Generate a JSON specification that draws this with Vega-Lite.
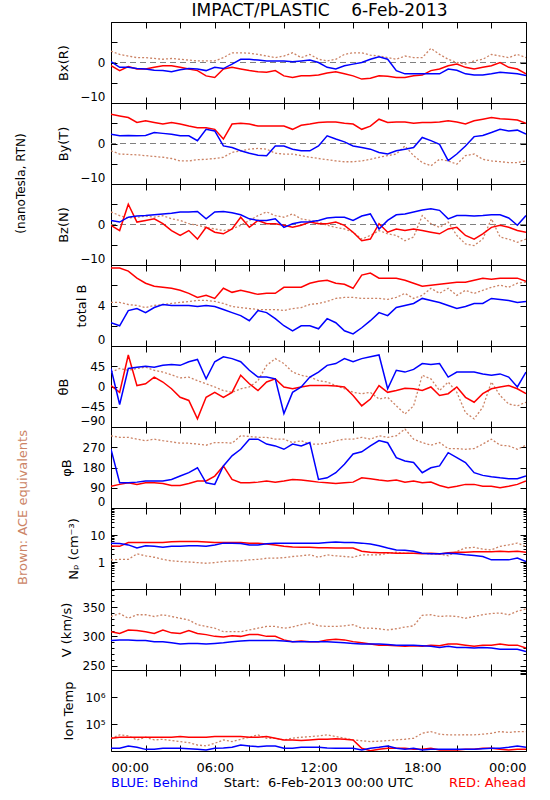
{
"$schema": "https://vega.github.io/schema/vega-lite/v6.json",
"background": "white",
"padding": {"left": 14, "top": 1, "right": 20, "bottom": 4},
"title": {"text": "IMPACT/PLASTIC\u00a0\u00a0\u00a0\u00a06-Feb-2013", "fontSize": 17, "fontWeight": "normal", "color": "black", "anchor": "middle", "offset": 1, "dx": 49},
"config": {
  "font": "DejaVu Sans",
  "view": {"stroke": "black", "strokeWidth": 1},
  "axis": {"domain": false, "grid": false, "ticks": true, "tickColor": "black", "tickSize": -6, "tickWidth": 1, "labelColor": "black", "labelFontSize": 12, "titleFontSize": 13, "titleFontWeight": "normal", "titleColor": "black", "minExtent": 0, "labelPadding": 12, "titlePadding": 9, "labelOverlap": false, "labelBound": false},
  "concat": {"spacing": 0}
},
"data": {"values": [
{"t":0,"bx_b":0.2,"bx_r":-0.8,"bx_a":2.8,"by_b":2.3,"by_r":7.2,"by_a":-1.8,"bz_b":1.0,"bz_r":-0.2,"bz_a":3.1,"bt_b":2.3,"bt_r":7.7,"bt_a":4.3,"th_b":40,"th_r":2,"th_a":32,"ph_b":261,"ph_r":97,"ph_a":321,"np_b":5.0,"np_r":3.9,"np_a":1.2,"v_b":293,"v_r":308,"v_a":334,"ti_b":12600,"ti_r":29600,"ti_a":29600},
{"t":0.5,"bx_b":-1.2,"bx_r":-2.0,"bx_a":2.0,"by_b":1.9,"by_r":6.8,"by_a":-2.6,"bz_b":0.6,"bz_r":-1.5,"bz_a":2.2,"bt_b":2.0,"bt_r":7.7,"bt_a":4.3,"th_b":-40,"th_r":-13,"th_a":40,"ph_b":112,"ph_r":105,"ph_a":314,"np_b":4.8,"np_r":3.8,"np_a":1.25,"v_b":294,"v_r":305,"v_a":339,"ti_b":12600,"ti_r":32300,"ti_a":39500},
{"t":1,"bx_b":-1.2,"bx_r":-1.0,"bx_a":1.6,"by_b":2.0,"by_r":6.4,"by_a":-2.7,"bz_b":1.8,"bz_r":5.0,"bz_a":1.6,"bt_b":3.5,"bt_r":7.4,"bt_a":4.1,"th_b":40,"th_r":70,"th_a":36,"ph_b":112,"ph_r":112,"ph_a":314,"np_b":4.3,"np_r":5.3,"np_a":1.25,"v_b":294,"v_r":311,"v_a":331,"ti_b":15400,"ti_r":32300,"ti_a":36200},
{"t":1.5,"bx_b":-1.5,"bx_r":-1.6,"bx_a":1.2,"by_b":1.9,"by_r":5.2,"by_a":-2.8,"bz_b":2.1,"bz_r":0.6,"bz_a":1.8,"bt_b":3.7,"bt_r":6.7,"bt_a":4.0,"th_b":43,"th_r":2,"th_a":40,"ph_b":115,"ph_r":105,"ph_a":306,"np_b":3.3,"np_r":5.3,"np_a":2.0,"v_b":293,"v_r":310,"v_a":337,"ti_b":13700,"ti_r":32300,"ti_a":25700},
{"t":2,"bx_b":-1.6,"bx_r":-1.6,"bx_a":1.2,"by_b":2.0,"by_r":5.6,"by_a":-3.0,"bz_b":2.2,"bz_r":1.0,"bz_a":2.1,"bt_b":3.3,"bt_r":6.2,"bt_a":3.8,"th_b":45,"th_r":6,"th_a":43,"ph_b":120,"ph_r":112,"ph_a":299,"np_b":4.0,"np_r":5.3,"np_a":1.7,"v_b":293,"v_r":308,"v_a":337,"ti_b":11500,"ti_r":32300,"ti_a":32300},
{"t":2.5,"bx_b":-1.9,"bx_r":-1.2,"bx_a":1.0,"by_b":2.7,"by_r":5.2,"by_a":-3.2,"bz_b":2.4,"bz_r":1.4,"bz_a":1.8,"bt_b":3.8,"bt_r":5.9,"bt_a":4.0,"th_b":43,"th_r":21,"th_a":36,"ph_b":120,"ph_r":112,"ph_a":306,"np_b":3.8,"np_r":5.3,"np_a":1.5,"v_b":291,"v_r":305,"v_a":334,"ti_b":11500,"ti_r":32300,"ti_a":25700},
{"t":3,"bx_b":-2.0,"bx_r":-0.8,"bx_a":0.8,"by_b":2.5,"by_r":4.8,"by_a":-3.4,"bz_b":2.6,"bz_r":0.2,"bz_a":2.2,"bt_b":4.1,"bt_r":5.8,"bt_a":4.1,"th_b":47,"th_r":10,"th_a":32,"ph_b":120,"ph_r":109,"ph_a":299,"np_b":3.5,"np_r":5.3,"np_a":1.25,"v_b":291,"v_r":311,"v_a":337,"ti_b":12600,"ti_r":32300,"ti_a":27200},
{"t":3.5,"bx_b":-2.3,"bx_r":-0.8,"bx_a":1.0,"by_b":2.3,"by_r":5.2,"by_a":-3.7,"bz_b":2.8,"bz_r":-1.5,"bz_a":1.4,"bt_b":4.0,"bt_r":5.7,"bt_a":4.2,"th_b":49,"th_r":-5,"th_a":26,"ph_b":127,"ph_r":100,"ph_a":294,"np_b":3.8,"np_r":5.6,"np_a":1.1,"v_b":289,"v_r":306,"v_a":334,"ti_b":12600,"ti_r":32300,"ti_a":24300},
{"t":4,"bx_b":-1.8,"bx_r":-1.2,"bx_a":0.8,"by_b":1.9,"by_r":4.8,"by_a":-4.3,"bz_b":3.1,"bz_r":-2.7,"bz_a":1.0,"bt_b":4.0,"bt_r":5.5,"bt_a":4.3,"th_b":47,"th_r":-24,"th_a":19,"ph_b":142,"ph_r":100,"ph_a":288,"np_b":3.8,"np_r":5.8,"np_a":1.04,"v_b":287,"v_r":305,"v_a":331,"ti_b":12600,"ti_r":34200,"ti_a":22300},
{"t":4.5,"bx_b":-1.5,"bx_r":-1.6,"bx_a":0.6,"by_b":1.9,"by_r":4.3,"by_a":-4.3,"bz_b":3.1,"bz_r":-1.5,"bz_a":0.2,"bt_b":4.0,"bt_r":5.2,"bt_a":4.4,"th_b":55,"th_r":-31,"th_a":21,"ph_b":157,"ph_r":109,"ph_a":288,"np_b":4.0,"np_r":5.8,"np_a":1.0,"v_b":288,"v_r":310,"v_a":328,"ti_b":12000,"ti_r":32300,"ti_a":20500},
{"t":5,"bx_b":-1.6,"bx_r":-2.0,"bx_a":0.4,"by_b":0.7,"by_r":3.9,"by_a":-4.0,"bz_b":3.2,"bz_r":-3.6,"bz_a":-0.2,"bt_b":3.9,"bt_r":4.8,"bt_a":4.5,"th_b":60,"th_r":-72,"th_a":13,"ph_b":179,"ph_r":120,"ph_a":284,"np_b":4.0,"np_r":5.8,"np_a":0.95,"v_b":288,"v_r":305,"v_a":320,"ti_b":11500,"ti_r":32300,"ti_a":16700},
{"t":5.5,"bx_b":-2.0,"bx_r":-3.3,"bx_a":0.4,"by_b":3.5,"by_r":3.9,"by_a":-3.9,"bz_b":1.4,"bz_r":-0.7,"bz_a":-0.7,"bt_b":4.0,"bt_r":5.0,"bt_a":4.5,"th_b":17,"th_r":-24,"th_a":6,"ph_b":112,"ph_r":120,"ph_a":279,"np_b":3.8,"np_r":5.5,"np_a":0.9,"v_b":287,"v_r":303,"v_a":317,"ti_b":10900,"ti_r":32300,"ti_a":15400},
{"t":6,"bx_b":-1.2,"bx_r":-3.7,"bx_a":0.4,"by_b":3.1,"by_r":3.5,"by_a":-3.7,"bz_b":3.1,"bz_r":-1.9,"bz_a":-1.1,"bt_b":3.9,"bt_r":4.7,"bt_a":4.4,"th_b":55,"th_r":-13,"th_a":-1,"ph_b":105,"ph_r":142,"ph_a":291,"np_b":4.3,"np_r":5.3,"np_a":0.95,"v_b":288,"v_r":300,"v_a":314,"ti_b":12600,"ti_r":34200,"ti_a":19300},
{"t":6.5,"bx_b":-1.5,"bx_r":-1.6,"bx_a":1.2,"by_b":-0.6,"by_r":1.1,"by_a":-3.4,"bz_b":3.2,"bz_r":-2.3,"bz_a":-1.5,"bt_b":3.6,"bt_r":5.7,"bt_a":4.2,"th_b":66,"th_r":-24,"th_a":-9,"ph_b":187,"ph_r":187,"ph_a":291,"np_b":5.0,"np_r":5.3,"np_a":1.04,"v_b":289,"v_r":299,"v_a":308,"ti_b":13000,"ti_r":34200,"ti_a":25700},
{"t":7,"bx_b":-0.4,"bx_r":-1.2,"bx_a":2.4,"by_b":-1.0,"by_r":4.8,"by_a":-2.2,"bz_b":2.9,"bz_r":-1.1,"bz_a":-1.1,"bt_b":3.3,"bt_r":5.3,"bt_a":3.9,"th_b":62,"th_r":-13,"th_a":-13,"ph_b":232,"ph_r":127,"ph_a":288,"np_b":5.0,"np_r":5.3,"np_a":1.1,"v_b":291,"v_r":301,"v_a":308,"ti_b":13700,"ti_r":34200,"ti_a":22300},
{"t":7.5,"bx_b":0.8,"bx_r":-1.6,"bx_a":2.4,"by_b":-1.8,"by_r":5.0,"by_a":-1.8,"bz_b":2.4,"bz_r":1.8,"bz_a":-0.2,"bt_b":3.0,"bt_r":5.5,"bt_a":3.8,"th_b":55,"th_r":25,"th_a":-5,"ph_b":261,"ph_r":112,"ph_a":321,"np_b":4.8,"np_r":5.3,"np_a":1.1,"v_b":292,"v_r":300,"v_a":308,"ti_b":16700,"ti_r":34200,"ti_a":27200},
{"t":8,"bx_b":0.8,"bx_r":-2.0,"bx_a":2.3,"by_b":-2.4,"by_r":4.8,"by_a":-1.4,"bz_b":1.4,"bz_r":-0.7,"bz_a":1.0,"bt_b":2.5,"bt_r":5.3,"bt_a":3.7,"th_b":36,"th_r":6,"th_a":-1,"ph_b":306,"ph_r":112,"ph_a":318,"np_b":4.3,"np_r":5.0,"np_a":1.2,"v_b":293,"v_r":303,"v_a":311,"ti_b":15400,"ti_r":32300,"ti_a":32300},
{"t":8.5,"bx_b":0.6,"bx_r":-2.3,"bx_a":2.0,"by_b":-2.9,"by_r":4.3,"by_a":-1.2,"bz_b":1.0,"bz_r":1.0,"bz_a":2.2,"bt_b":3.5,"bt_r":5.1,"bt_a":3.6,"th_b":21,"th_r":-9,"th_a":13,"ph_b":306,"ph_r":115,"ph_a":314,"np_b":4.3,"np_r":5.0,"np_a":1.25,"v_b":293,"v_r":303,"v_a":314,"ti_b":14500,"ti_r":32300,"ti_a":39500},
{"t":9,"bx_b":0.4,"bx_r":-2.4,"bx_a":1.6,"by_b":-3.0,"by_r":4.3,"by_a":-1.4,"bz_b":1.0,"bz_r":0.2,"bz_a":3.1,"bt_b":3.3,"bt_r":5.2,"bt_a":3.6,"th_b":21,"th_r":10,"th_a":47,"ph_b":284,"ph_r":120,"ph_a":314,"np_b":4.7,"np_r":4.6,"np_a":1.38,"v_b":293,"v_r":300,"v_a":317,"ti_b":15400,"ti_r":34200,"ti_a":29600},
{"t":9.5,"bx_b":0.4,"bx_r":-2.0,"bx_a":1.2,"by_b":-0.6,"by_r":4.3,"by_a":-2.4,"bz_b":1.4,"bz_r":0.2,"bz_a":2.2,"bt_b":2.7,"bt_r":5.2,"bt_a":3.6,"th_b":17,"th_r":17,"th_a":62,"ph_b":276,"ph_r":115,"ph_a":306,"np_b":5.0,"np_r":4.3,"np_a":1.38,"v_b":293,"v_r":300,"v_a":317,"ti_b":15400,"ti_r":29600,"ti_a":29600},
{"t":10,"bx_b":0.4,"bx_r":-3.3,"bx_a":1.6,"by_b":-0.6,"by_r":4.3,"by_a":-2.6,"bz_b":-0.7,"bz_r":-0.2,"bz_a":1.8,"bt_b":2.0,"bt_r":5.8,"bt_a":3.5,"th_b":-60,"th_r":-1,"th_a":51,"ph_b":261,"ph_r":120,"ph_a":306,"np_b":5.0,"np_r":3.8,"np_a":1.45,"v_b":292,"v_r":294,"v_a":314,"ti_b":12600,"ti_r":25700,"ti_a":25700},
{"t":10.5,"bx_b":0.2,"bx_r":-3.7,"bx_a":2.4,"by_b":-1.4,"by_r":3.5,"by_a":-2.6,"bz_b":0.2,"bz_r":-0.7,"bz_a":2.6,"bt_b":1.5,"bt_r":5.8,"bt_a":3.7,"th_b":-13,"th_r":-5,"th_a":32,"ph_b":284,"ph_r":127,"ph_a":291,"np_b":5.0,"np_r":3.6,"np_a":1.6,"v_b":291,"v_r":291,"v_a":316,"ti_b":12600,"ti_r":25700,"ti_a":30000},
{"t":11,"bx_b":0.4,"bx_r":-3.3,"bx_a":1.2,"by_b":-1.8,"by_r":4.5,"by_a":-3.0,"bz_b":0.6,"bz_r":-0.2,"bz_a":1.4,"bt_b":2.0,"bt_r":5.8,"bt_a":3.8,"th_b":-1,"th_r":-1,"th_a":25,"ph_b":276,"ph_r":124,"ph_a":299,"np_b":5.0,"np_r":3.5,"np_a":1.7,"v_b":291,"v_r":292,"v_a":320,"ti_b":13700,"ti_r":24300,"ti_a":32300},
{"t":11.5,"bx_b":0.6,"bx_r":-3.3,"bx_a":2.0,"by_b":-1.8,"by_r":4.8,"by_a":-3.4,"bz_b":0.7,"bz_r":0.6,"bz_a":1.0,"bt_b":2.0,"bt_r":6.2,"bt_a":4.1,"th_b":21,"th_r":2,"th_a":21,"ph_b":291,"ph_r":120,"ph_a":284,"np_b":5.0,"np_r":3.5,"np_a":1.84,"v_b":291,"v_r":291,"v_a":323,"ti_b":13700,"ti_r":25700,"ti_a":34000},
{"t":12,"bx_b":0.0,"bx_r":-3.1,"bx_a":0.8,"by_b":-0.6,"by_r":5.2,"by_a":-3.7,"bz_b":1.0,"bz_r":0.2,"bz_a":0.6,"bt_b":1.7,"bt_r":6.4,"bt_a":4.2,"th_b":32,"th_r":2,"th_a":13,"ph_b":127,"ph_r":115,"ph_a":284,"np_b":5.0,"np_r":3.4,"np_a":1.5,"v_b":291,"v_r":291,"v_a":318,"ti_b":13700,"ti_r":27200,"ti_a":36200},
{"t":12.5,"bx_b":-1.2,"bx_r":-2.6,"bx_a":0.4,"by_b":1.9,"by_r":5.3,"by_a":-4.0,"bz_b":1.6,"bz_r":0.2,"bz_a":-0.2,"bt_b":2.7,"bt_r":6.5,"bt_a":4.4,"th_b":47,"th_r":2,"th_a":10,"ph_b":134,"ph_r":112,"ph_a":288,"np_b":5.3,"np_r":3.4,"np_a":1.84,"v_b":291,"v_r":294,"v_a":317,"ti_b":13000,"ti_r":27200,"ti_a":39500},
{"t":13,"bx_b":-1.6,"bx_r":-2.3,"bx_a":0.8,"by_b":1.1,"by_r":5.3,"by_a":-4.3,"bz_b":1.8,"bz_r":0.6,"bz_a":-0.7,"bt_b":2.3,"bt_r":6.2,"bt_a":4.7,"th_b":51,"th_r":1,"th_a":2,"ph_b":157,"ph_r":109,"ph_a":299,"np_b":5.5,"np_r":3.3,"np_a":1.7,"v_b":290,"v_r":295,"v_a":317,"ti_b":12600,"ti_r":28500,"ti_a":34200},
{"t":13.5,"bx_b":-0.8,"bx_r":-2.8,"bx_a":2.0,"by_b":0.4,"by_r":5.0,"by_a":-4.5,"bz_b":1.8,"bz_r":-0.2,"bz_a":-1.1,"bt_b":1.5,"bt_r":6.1,"bt_a":4.8,"th_b":62,"th_r":-1,"th_a":-5,"ph_b":194,"ph_r":112,"ph_a":306,"np_b":5.3,"np_r":3.3,"np_a":1.6,"v_b":289,"v_r":294,"v_a":318,"ti_b":12600,"ti_r":27200,"ti_a":30000},
{"t":14,"bx_b":-0.4,"bx_r":-3.3,"bx_a":2.4,"by_b":-0.6,"by_r":4.8,"by_a":-4.5,"bz_b":1.0,"bz_r":-1.9,"bz_a":-1.9,"bt_b":1.2,"bt_r":5.7,"bt_a":4.8,"th_b":55,"th_r":-20,"th_a":-13,"ph_b":240,"ph_r":115,"ph_a":306,"np_b":5.3,"np_r":3.3,"np_a":1.5,"v_b":288,"v_r":291,"v_a":320,"ti_b":12600,"ti_r":25700,"ti_a":25700},
{"t":14.5,"bx_b":0.0,"bx_r":-4.1,"bx_a":2.4,"by_b":-1.0,"by_r":3.5,"by_a":-4.3,"bz_b":2.1,"bz_r":-4.0,"bz_a":-3.6,"bt_b":1.8,"bt_r":7.0,"bt_a":4.7,"th_b":62,"th_r":-43,"th_a":-16,"ph_b":250,"ph_r":134,"ph_a":314,"np_b":5.0,"np_r":2.5,"np_a":1.84,"v_b":287,"v_r":289,"v_a":314,"ti_b":10900,"ti_r":12600,"ti_a":24000},
{"t":15,"bx_b":0.8,"bx_r":-3.9,"bx_a":1.8,"by_b":-1.4,"by_r":4.3,"by_a":-3.9,"bz_b":2.6,"bz_r":-3.6,"bz_a":-2.7,"bt_b":2.5,"bt_r":7.2,"bt_a":4.7,"th_b":66,"th_r":-28,"th_a":-13,"ph_b":276,"ph_r":130,"ph_a":306,"np_b":4.6,"np_r":2.3,"np_a":1.84,"v_b":287,"v_r":287,"v_a":314,"ti_b":12600,"ti_r":10300,"ti_a":22300},
{"t":15.5,"bx_b":1.4,"bx_r":-3.3,"bx_a":1.6,"by_b":-2.2,"by_r":6.0,"by_a":-3.4,"bz_b":-1.1,"bz_r":0.2,"bz_a":-1.5,"bt_b":3.3,"bt_r":6.7,"bt_a":4.7,"th_b":70,"th_r":2,"th_a":-28,"ph_b":300,"ph_r":124,"ph_a":321,"np_b":4.0,"np_r":2.2,"np_a":1.84,"v_b":287,"v_r":285,"v_a":313,"ti_b":13700,"ti_r":11500,"ti_a":23000},
{"t":16,"bx_b":0.8,"bx_r":-3.4,"bx_a":1.2,"by_b":-2.6,"by_r":5.2,"by_a":-3.0,"bz_b":1.0,"bz_r":-1.9,"bz_a":-2.3,"bt_b":3.0,"bt_r":6.7,"bt_a":4.6,"th_b":-5,"th_r":-13,"th_a":-24,"ph_b":290,"ph_r":120,"ph_a":314,"np_b":3.3,"np_r":2.2,"np_a":2.1,"v_b":286,"v_r":285,"v_a":311,"ti_b":15400,"ti_r":12600,"ti_a":24300},
{"t":16.5,"bx_b":-2.0,"bx_r":-3.7,"bx_a":0.8,"by_b":-1.8,"by_r":5.3,"by_a":-2.6,"bz_b":2.4,"bz_r":-1.1,"bz_a":-2.7,"bt_b":3.8,"bt_r":6.7,"bt_a":4.8,"th_b":36,"th_r":-9,"th_a":-43,"ph_b":224,"ph_r":124,"ph_a":321,"np_b":2.8,"np_r":2.1,"np_a":2.3,"v_b":285,"v_r":284,"v_a":313,"ti_b":12600,"ti_r":12600,"ti_a":26000},
{"t":17,"bx_b":-2.8,"bx_r":-3.7,"bx_a":1.6,"by_b":-1.4,"by_r":5.3,"by_a":-0.6,"bz_b":2.6,"bz_r":-1.5,"bz_a":-4.0,"bt_b":4.0,"bt_r":6.5,"bt_a":5.2,"th_b":32,"th_r":-4,"th_a":-61,"ph_b":209,"ph_r":115,"ph_a":351,"np_b":2.7,"np_r":2.1,"np_a":2.1,"v_b":285,"v_r":283,"v_a":316,"ti_b":11500,"ti_r":12600,"ti_a":27200},
{"t":17.5,"bx_b":-2.8,"bx_r":-3.3,"bx_a":1.2,"by_b":-1.0,"by_r":5.0,"by_a":-3.0,"bz_b":3.1,"bz_r":-1.1,"bz_a":-3.1,"bt_b":4.2,"bt_r":6.2,"bt_a":4.7,"th_b":38,"th_r":-5,"th_a":-43,"ph_b":202,"ph_r":120,"ph_a":306,"np_b":2.5,"np_r":2.1,"np_a":2.1,"v_b":285,"v_r":284,"v_a":318,"ti_b":12600,"ti_r":11500,"ti_a":29600},
{"t":18,"bx_b":-2.8,"bx_r":-3.1,"bx_a":1.2,"by_b":1.5,"by_r":5.2,"by_a":-4.7,"bz_b":3.6,"bz_r":-1.5,"bz_a":2.2,"bt_b":4.7,"bt_r":5.9,"bt_a":5.0,"th_b":51,"th_r":-9,"th_a":25,"ph_b":157,"ph_r":112,"ph_a":291,"np_b":2.1,"np_r":2.0,"np_a":2.1,"v_b":284,"v_r":283,"v_a":336,"ti_b":10900,"ti_r":11500,"ti_a":45500},
{"t":18.5,"bx_b":-2.8,"bx_r":-2.0,"bx_a":3.5,"by_b":0.7,"by_r":5.2,"by_a":-5.5,"bz_b":3.9,"bz_r":-1.9,"bz_a":0.2,"bt_b":4.5,"bt_r":6.0,"bt_a":5.7,"th_b":49,"th_r":-1,"th_a":17,"ph_b":179,"ph_r":115,"ph_a":279,"np_b":2.0,"np_r":2.1,"np_a":2.0,"v_b":283,"v_r":285,"v_a":337,"ti_b":11500,"ti_r":12600,"ti_a":52500},
{"t":19,"bx_b":-2.8,"bx_r":-1.6,"bx_a":2.0,"by_b":-0.2,"by_r":5.3,"by_a":-3.9,"bz_b":3.5,"bz_r":-2.3,"bz_a":-0.7,"bt_b":4.3,"bt_r":6.1,"bt_a":5.2,"th_b":51,"th_r":-20,"th_a":-9,"ph_b":187,"ph_r":100,"ph_a":291,"np_b":2.0,"np_r":2.0,"np_a":2.0,"v_b":281,"v_r":284,"v_a":334,"ti_b":11500,"ti_r":10900,"ti_a":42000},
{"t":19.5,"bx_b":-1.6,"bx_r":-0.8,"bx_a":0.8,"by_b":-4.2,"by_r":5.6,"by_a":-4.3,"bz_b":1.4,"bz_r":-1.1,"bz_a":0.6,"bt_b":4.0,"bt_r":6.2,"bt_a":5.7,"th_b":21,"th_r":-16,"th_a":10,"ph_b":246,"ph_r":90,"ph_a":264,"np_b":2.1,"np_r":2.2,"np_a":1.7,"v_b":283,"v_r":287,"v_a":335,"ti_b":11500,"ti_r":10900,"ti_a":39500},
{"t":20,"bx_b":-1.9,"bx_r":-0.4,"bx_a":0.0,"by_b":-2.6,"by_r":5.3,"by_a":-5.1,"bz_b":2.2,"bz_r":-0.7,"bz_a":-2.7,"bt_b":3.7,"bt_r":6.3,"bt_a":5.0,"th_b":32,"th_r":-1,"th_a":-13,"ph_b":224,"ph_r":97,"ph_a":264,"np_b":2.0,"np_r":2.3,"np_a":2.45,"v_b":281,"v_r":287,"v_a":334,"ti_b":11500,"ti_r":10900,"ti_a":39500},
{"t":20.5,"bx_b":-2.8,"bx_r":-1.2,"bx_a":-0.4,"by_b":-0.6,"by_r":4.8,"by_a":-3.0,"bz_b":2.2,"bz_r":-2.7,"bz_a":-4.8,"bt_b":3.9,"bt_r":6.3,"bt_a":5.5,"th_b":32,"th_r":-24,"th_a":-58,"ph_b":202,"ph_r":105,"ph_a":261,"np_b":1.85,"np_r":2.3,"np_a":3.3,"v_b":281,"v_r":285,"v_a":331,"ti_b":11500,"ti_r":11500,"ti_a":40000},
{"t":21,"bx_b":-3.1,"bx_r":-1.6,"bx_a":0.4,"by_b":1.7,"by_r":5.6,"by_a":-2.6,"bz_b":2.1,"bz_r":-3.6,"bz_a":-5.2,"bt_b":4.2,"bt_r":6.5,"bt_a":5.2,"th_b":32,"th_r":-35,"th_a":-72,"ph_b":157,"ph_r":105,"ph_a":264,"np_b":1.75,"np_r":2.4,"np_a":3.5,"v_b":280,"v_r":283,"v_a":334,"ti_b":11500,"ti_r":11500,"ti_a":39500},
{"t":21.5,"bx_b":-3.1,"bx_r":-1.2,"bx_a":0.8,"by_b":2.0,"by_r":6.0,"by_a":-3.9,"bz_b":2.2,"bz_r":-2.3,"bz_a":-3.6,"bt_b":4.2,"bt_r":6.7,"bt_a":5.5,"th_b":28,"th_r":-16,"th_a":-46,"ph_b":145,"ph_r":97,"ph_a":284,"np_b":1.6,"np_r":2.4,"np_a":3.0,"v_b":281,"v_r":285,"v_a":337,"ti_b":12000,"ti_r":12600,"ti_a":42000},
{"t":22,"bx_b":-2.8,"bx_r":-0.8,"bx_a":2.0,"by_b":2.7,"by_r":6.4,"by_a":-4.3,"bz_b":2.4,"bz_r":-0.7,"bz_a":1.4,"bt_b":4.7,"bt_r":6.6,"bt_a":5.8,"th_b":25,"th_r":-5,"th_a":10,"ph_b":139,"ph_r":97,"ph_a":306,"np_b":1.2,"np_r":2.4,"np_a":2.8,"v_b":280,"v_r":285,"v_a":339,"ti_b":12600,"ti_r":12600,"ti_a":45500},
{"t":22.5,"bx_b":-2.4,"bx_r":0.0,"bx_a":1.6,"by_b":3.5,"by_r":6.1,"by_a":-4.5,"bz_b":2.4,"bz_r":-0.2,"bz_a":-3.1,"bt_b":4.6,"bt_r":6.7,"bt_a":6.0,"th_b":28,"th_r":-1,"th_a":-20,"ph_b":134,"ph_r":90,"ph_a":279,"np_b":1.2,"np_r":2.5,"np_a":3.8,"v_b":278,"v_r":287,"v_a":340,"ti_b":12600,"ti_r":11500,"ti_a":52500},
{"t":23,"bx_b":-2.6,"bx_r":-1.2,"bx_a":1.2,"by_b":3.1,"by_r":6.0,"by_a":-4.7,"bz_b":1.6,"bz_r":-0.7,"bz_a":-3.6,"bt_b":4.5,"bt_r":6.7,"bt_a":5.8,"th_b":21,"th_r":2,"th_a":-39,"ph_b":130,"ph_r":97,"ph_a":276,"np_b":1.2,"np_r":2.4,"np_a":4.3,"v_b":278,"v_r":285,"v_a":337,"ti_b":13700,"ti_r":10900,"ti_a":48200},
{"t":23.5,"bx_b":-2.8,"bx_r":-1.6,"bx_a":2.0,"by_b":3.3,"by_r":5.8,"by_a":-4.7,"bz_b":-0.2,"bz_r":-1.5,"bz_a":-4.4,"bt_b":4.3,"bt_r":6.7,"bt_a":6.2,"th_b":-1,"th_r":-5,"th_a":-43,"ph_b":130,"ph_r":105,"ph_a":261,"np_b":1.4,"np_r":2.5,"np_a":5.0,"v_b":278,"v_r":285,"v_a":343,"ti_b":15400,"ti_r":11500,"ti_a":52500},
{"t":24,"bx_b":-3.2,"bx_r":-2.8,"bx_a":1.2,"by_b":2.3,"by_r":5.0,"by_a":-4.3,"bz_b":2.2,"bz_r":-1.9,"bz_a":-3.6,"bt_b":4.4,"bt_r":6.4,"bt_a":6.3,"th_b":32,"th_r":-16,"th_a":-35,"ph_b":142,"ph_r":120,"ph_a":279,"np_b":1.04,"np_r":2.3,"np_a":3.8,"v_b":274,"v_r":280,"v_a":347,"ti_b":13700,"ti_r":11500,"ti_a":52500}
]},
"bounds": "flush",
"spacing": 0,
"vconcat": [
  {"width": 415, "height": 81,
   "layer": [
    {"mark": {"type": "rule", "color": "#808080", "strokeDash": [6, 4], "strokeWidth": 1}, "encoding": {"y": {"datum": 0, "type": "quantitative", "scale": {"domain": [-10, 10], "nice": false}, "axis": null}}},
    {"mark": {"type": "line", "color": "#cc8466", "strokeDash": [2, 2], "strokeWidth": 1.3, "clip": true}, "encoding": {"x": {"field": "t", "type": "quantitative", "scale": {"domain": [0, 24], "nice": false}, "axis": {"orient": "bottom", "values": [0,2,4,6,8,10,12,14,16,18,20,22,24], "labels": false, "title": null}}, "y": {"field": "bx_a", "type": "quantitative", "scale": {"domain": [-10, 10], "nice": false}, "axis": {"orient": "left", "values": [-10,-5,0,5,10], "labelExpr": "datum.value == 0 || datum.value == -10 ? format(datum.value, 'd') : ''", "labelFlush": true, "title": "Bx(R)"}}}},
    {"mark": {"type": "line", "color": "#ff0000", "strokeWidth": 1.5, "clip": true}, "encoding": {"x": {"field": "t", "type": "quantitative", "scale": {"domain": [0, 24], "nice": false}, "axis": {"orient": "top", "values": [0,2,4,6,8,10,12,14,16,18,20,22,24], "labels": false, "title": null}}, "y": {"field": "bx_r", "type": "quantitative", "scale": {"domain": [-10, 10], "nice": false}, "axis": {"orient": "right", "values": [-10,-5,0,5,10], "labels": false, "title": null}}}},
    {"mark": {"type": "line", "color": "#0000ff", "strokeWidth": 1.5, "clip": true}, "encoding": {"x": {"field": "t", "type": "quantitative", "scale": {"domain": [0, 24], "nice": false}, "axis": null}, "y": {"field": "bx_b", "type": "quantitative", "scale": {"domain": [-10, 10], "nice": false}, "axis": null}}}
   ],
   "resolve": {"axis": {"x": "independent", "y": "independent"}}},
  {"width": 415, "height": 81,
   "title": {"text": "(nanoTesla, RTN)", "orient": "left", "anchor": "middle", "fontSize": 12, "fontWeight": "normal", "color": "black", "offset": 30, "dx": -40},
   "layer": [
    {"mark": {"type": "rule", "color": "#808080", "strokeDash": [6, 4], "strokeWidth": 1}, "encoding": {"y": {"datum": 0, "type": "quantitative", "scale": {"domain": [-10, 10], "nice": false}, "axis": null}}},
    {"mark": {"type": "line", "color": "#cc8466", "strokeDash": [2, 2], "strokeWidth": 1.3, "clip": true}, "encoding": {"x": {"field": "t", "type": "quantitative", "scale": {"domain": [0, 24], "nice": false}, "axis": {"orient": "bottom", "values": [0,2,4,6,8,10,12,14,16,18,20,22,24], "labels": false, "title": null}}, "y": {"field": "by_a", "type": "quantitative", "scale": {"domain": [-10, 10], "nice": false}, "axis": {"orient": "left", "values": [-10,-5,0,5,10], "labelExpr": "datum.value == 0 || datum.value == -10 ? format(datum.value, 'd') : ''", "labelFlush": true, "title": "By(T)"}}}},
    {"mark": {"type": "line", "color": "#ff0000", "strokeWidth": 1.5, "clip": true}, "encoding": {"x": {"field": "t", "type": "quantitative", "scale": {"domain": [0, 24], "nice": false}, "axis": {"orient": "top", "values": [0,2,4,6,8,10,12,14,16,18,20,22,24], "labels": false, "title": null}}, "y": {"field": "by_r", "type": "quantitative", "scale": {"domain": [-10, 10], "nice": false}, "axis": {"orient": "right", "values": [-10,-5,0,5,10], "labels": false, "title": null}}}},
    {"mark": {"type": "line", "color": "#0000ff", "strokeWidth": 1.5, "clip": true}, "encoding": {"x": {"field": "t", "type": "quantitative", "scale": {"domain": [0, 24], "nice": false}, "axis": null}, "y": {"field": "by_b", "type": "quantitative", "scale": {"domain": [-10, 10], "nice": false}, "axis": null}}}
   ],
   "resolve": {"axis": {"x": "independent", "y": "independent"}}},
  {"width": 415, "height": 81,
   "layer": [
    {"mark": {"type": "rule", "color": "#808080", "strokeDash": [6, 4], "strokeWidth": 1}, "encoding": {"y": {"datum": 0, "type": "quantitative", "scale": {"domain": [-10, 10], "nice": false}, "axis": null}}},
    {"mark": {"type": "line", "color": "#cc8466", "strokeDash": [2, 2], "strokeWidth": 1.3, "clip": true}, "encoding": {"x": {"field": "t", "type": "quantitative", "scale": {"domain": [0, 24], "nice": false}, "axis": {"orient": "bottom", "values": [0,2,4,6,8,10,12,14,16,18,20,22,24], "labels": false, "title": null}}, "y": {"field": "bz_a", "type": "quantitative", "scale": {"domain": [-10, 10], "nice": false}, "axis": {"orient": "left", "values": [-10,-5,0,5,10], "labelExpr": "datum.value == 0 || datum.value == -10 ? format(datum.value, 'd') : ''", "labelFlush": true, "title": "Bz(N)"}}}},
    {"mark": {"type": "line", "color": "#ff0000", "strokeWidth": 1.5, "clip": true}, "encoding": {"x": {"field": "t", "type": "quantitative", "scale": {"domain": [0, 24], "nice": false}, "axis": {"orient": "top", "values": [0,2,4,6,8,10,12,14,16,18,20,22,24], "labels": false, "title": null}}, "y": {"field": "bz_r", "type": "quantitative", "scale": {"domain": [-10, 10], "nice": false}, "axis": {"orient": "right", "values": [-10,-5,0,5,10], "labels": false, "title": null}}}},
    {"mark": {"type": "line", "color": "#0000ff", "strokeWidth": 1.5, "clip": true}, "encoding": {"x": {"field": "t", "type": "quantitative", "scale": {"domain": [0, 24], "nice": false}, "axis": null}, "y": {"field": "bz_b", "type": "quantitative", "scale": {"domain": [-10, 10], "nice": false}, "axis": null}}}
   ],
   "resolve": {"axis": {"x": "independent", "y": "independent"}}},
  {"width": 415, "height": 81,
   "layer": [
    {"mark": {"type": "line", "color": "#cc8466", "strokeDash": [2, 2], "strokeWidth": 1.3, "clip": true}, "encoding": {"x": {"field": "t", "type": "quantitative", "scale": {"domain": [0, 24], "nice": false}, "axis": {"orient": "bottom", "values": [0,2,4,6,8,10,12,14,16,18,20,22,24], "labels": false, "title": null}}, "y": {"field": "bt_a", "type": "quantitative", "scale": {"domain": [0, 8], "nice": false}, "axis": {"orient": "left", "values": [0,2,4,6,8], "labelExpr": "datum.value == 0 || datum.value == 4 ? format(datum.value, 'd') : ''", "labelFlush": true, "title": "total B"}}}},
    {"mark": {"type": "line", "color": "#ff0000", "strokeWidth": 1.5, "clip": true}, "encoding": {"x": {"field": "t", "type": "quantitative", "scale": {"domain": [0, 24], "nice": false}, "axis": {"orient": "top", "values": [0,2,4,6,8,10,12,14,16,18,20,22,24], "labels": false, "title": null}}, "y": {"field": "bt_r", "type": "quantitative", "scale": {"domain": [0, 8], "nice": false}, "axis": {"orient": "right", "values": [0,2,4,6,8], "labels": false, "title": null}}}},
    {"mark": {"type": "line", "color": "#0000ff", "strokeWidth": 1.5, "clip": true}, "encoding": {"x": {"field": "t", "type": "quantitative", "scale": {"domain": [0, 24], "nice": false}, "axis": null}, "y": {"field": "bt_b", "type": "quantitative", "scale": {"domain": [0, 8], "nice": false}, "axis": null}}}
   ],
   "resolve": {"axis": {"x": "independent", "y": "independent"}}},
  {"width": 415, "height": 81,
   "layer": [
    {"mark": {"type": "line", "color": "#cc8466", "strokeDash": [2, 2], "strokeWidth": 1.3, "clip": true}, "encoding": {"x": {"field": "t", "type": "quantitative", "scale": {"domain": [0, 24], "nice": false}, "axis": {"orient": "bottom", "values": [0,2,4,6,8,10,12,14,16,18,20,22,24], "labels": false, "title": null}}, "y": {"field": "th_a", "type": "quantitative", "scale": {"domain": [-90, 90], "nice": false}, "axis": {"orient": "left", "values": [-90,-45,0,45,90], "labelExpr": "datum.value < 90 ? format(datum.value, 'd') : ''", "labelFlush": true, "title": "θB"}}}},
    {"mark": {"type": "line", "color": "#ff0000", "strokeWidth": 1.5, "clip": true}, "encoding": {"x": {"field": "t", "type": "quantitative", "scale": {"domain": [0, 24], "nice": false}, "axis": {"orient": "top", "values": [0,2,4,6,8,10,12,14,16,18,20,22,24], "labels": false, "title": null}}, "y": {"field": "th_r", "type": "quantitative", "scale": {"domain": [-90, 90], "nice": false}, "axis": {"orient": "right", "values": [-90,-45,0,45,90], "labels": false, "title": null}}}},
    {"mark": {"type": "line", "color": "#0000ff", "strokeWidth": 1.5, "clip": true}, "encoding": {"x": {"field": "t", "type": "quantitative", "scale": {"domain": [0, 24], "nice": false}, "axis": null}, "y": {"field": "th_b", "type": "quantitative", "scale": {"domain": [-90, 90], "nice": false}, "axis": null}}}
   ],
   "resolve": {"axis": {"x": "independent", "y": "independent"}}},
  {"width": 415, "height": 81,
   "title": {"text": "Brown: ACE equivalents", "orient": "left", "anchor": "middle", "fontSize": 13, "fontWeight": "normal", "color": "#cc8466", "offset": 30, "dx": -40},
   "layer": [
    {"mark": {"type": "line", "color": "#cc8466", "strokeDash": [2, 2], "strokeWidth": 1.3, "clip": true}, "encoding": {"x": {"field": "t", "type": "quantitative", "scale": {"domain": [0, 24], "nice": false}, "axis": {"orient": "bottom", "values": [0,2,4,6,8,10,12,14,16,18,20,22,24], "labels": false, "title": null}}, "y": {"field": "ph_a", "type": "quantitative", "scale": {"domain": [0, 360], "nice": false}, "axis": {"orient": "left", "values": [0,90,180,270,360], "labelExpr": "datum.value < 360 ? format(datum.value, 'd') : ''", "labelFlush": true, "title": "φB"}}}},
    {"mark": {"type": "line", "color": "#ff0000", "strokeWidth": 1.5, "clip": true}, "encoding": {"x": {"field": "t", "type": "quantitative", "scale": {"domain": [0, 24], "nice": false}, "axis": {"orient": "top", "values": [0,2,4,6,8,10,12,14,16,18,20,22,24], "labels": false, "title": null}}, "y": {"field": "ph_r", "type": "quantitative", "scale": {"domain": [0, 360], "nice": false}, "axis": {"orient": "right", "values": [0,90,180,270,360], "labels": false, "title": null}}}},
    {"mark": {"type": "line", "color": "#0000ff", "strokeWidth": 1.5, "clip": true}, "encoding": {"x": {"field": "t", "type": "quantitative", "scale": {"domain": [0, 24], "nice": false}, "axis": null}, "y": {"field": "ph_b", "type": "quantitative", "scale": {"domain": [0, 360], "nice": false}, "axis": null}}}
   ],
   "resolve": {"axis": {"x": "independent", "y": "independent"}}},
  {"width": 415, "height": 81,
   "layer": [
    {"mark": {"type": "line", "color": "#cc8466", "strokeDash": [2, 2], "strokeWidth": 1.3, "clip": true}, "encoding": {"x": {"field": "t", "type": "quantitative", "scale": {"domain": [0, 24], "nice": false}, "axis": {"orient": "bottom", "values": [0,2,4,6,8,10,12,14,16,18,20,22,24], "labels": false, "title": null}}, "y": {"field": "np_a", "type": "quantitative", "scale": {"type": "log", "domain": [0.1, 100], "nice": false}, "axis": {"orient": "left", "values": [0.1,0.2,0.3,0.4,0.5,0.6,0.7,0.8,0.9,1,2,3,4,5,6,7,8,9,10,20,30,40,50,60,70,80,90,100], "tickSize": {"condition": {"test": "datum.value == 1 || datum.value == 10", "value": -6}, "value": -3}, "labelExpr": "datum.value == 1 || datum.value == 10 ? format(datum.value, 'd') : ''", "title": "Nₚ (cm⁻³)"}}}},
    {"mark": {"type": "line", "color": "#ff0000", "strokeWidth": 1.5, "clip": true}, "encoding": {"x": {"field": "t", "type": "quantitative", "scale": {"domain": [0, 24], "nice": false}, "axis": {"orient": "top", "values": [0,2,4,6,8,10,12,14,16,18,20,22,24], "labels": false, "title": null}}, "y": {"field": "np_r", "type": "quantitative", "scale": {"type": "log", "domain": [0.1, 100], "nice": false}, "axis": {"orient": "right", "values": [0.1,0.2,0.3,0.4,0.5,0.6,0.7,0.8,0.9,1,2,3,4,5,6,7,8,9,10,20,30,40,50,60,70,80,90,100], "tickSize": {"condition": {"test": "datum.value == 1 || datum.value == 10", "value": -6}, "value": -3}, "labels": false, "title": null}}}},
    {"mark": {"type": "line", "color": "#0000ff", "strokeWidth": 1.5, "clip": true}, "encoding": {"x": {"field": "t", "type": "quantitative", "scale": {"domain": [0, 24], "nice": false}, "axis": null}, "y": {"field": "np_b", "type": "quantitative", "scale": {"type": "log", "domain": [0.1, 100], "nice": false}, "axis": null}}}
   ],
   "resolve": {"axis": {"x": "independent", "y": "independent"}}},
  {"width": 415, "height": 81,
   "layer": [
    {"mark": {"type": "line", "color": "#cc8466", "strokeDash": [2, 2], "strokeWidth": 1.3, "clip": true}, "encoding": {"x": {"field": "t", "type": "quantitative", "scale": {"domain": [0, 24], "nice": false}, "axis": {"orient": "bottom", "values": [0,2,4,6,8,10,12,14,16,18,20,22,24], "labels": false, "title": null}}, "y": {"field": "v_a", "type": "quantitative", "scale": {"domain": [242.5, 381], "nice": false, "zero": false}, "axis": {"orient": "left", "values": [250,260,270,280,290,300,310,320,330,340,350,360,370,380], "tickSize": {"condition": {"test": "datum.value % 50 == 0", "value": -6}, "value": -3}, "labelExpr": "datum.value % 50 == 0 ? format(datum.value, 'd') : ''", "title": "V (km/s)"}}}},
    {"mark": {"type": "line", "color": "#ff0000", "strokeWidth": 1.5, "clip": true}, "encoding": {"x": {"field": "t", "type": "quantitative", "scale": {"domain": [0, 24], "nice": false}, "axis": {"orient": "top", "values": [0,2,4,6,8,10,12,14,16,18,20,22,24], "labels": false, "title": null}}, "y": {"field": "v_r", "type": "quantitative", "scale": {"domain": [242.5, 381], "nice": false, "zero": false}, "axis": {"orient": "right", "values": [250,260,270,280,290,300,310,320,330,340,350,360,370,380], "tickSize": {"condition": {"test": "datum.value % 50 == 0", "value": -6}, "value": -3}, "labels": false, "title": null}}}},
    {"mark": {"type": "line", "color": "#0000ff", "strokeWidth": 1.5, "clip": true}, "encoding": {"x": {"field": "t", "type": "quantitative", "scale": {"domain": [0, 24], "nice": false}, "axis": null}, "y": {"field": "v_b", "type": "quantitative", "scale": {"domain": [242.5, 381], "nice": false, "zero": false}, "axis": null}}}
   ],
   "resolve": {"axis": {"x": "independent", "y": "independent"}}},
 {"width": 415, "height": 81,
  "layer": [
   {"mark": {"type": "line", "color": "#cc8466", "strokeDash": [2, 2], "strokeWidth": 1.3, "clip": true}, "encoding": {"x": {"field": "t", "type": "quantitative", "scale": {"domain": [0, 24], "nice": false}, "axis": {"orient": "bottom", "values": [0,2,4,6,8,10,12,14,16,18,20,22,24], "labelExpr": "datum.value % 6 == 0 ? (datum.value == 24 ? '00:00' : (datum.value < 10 ? '0' : '') + datum.value + ':00') : ''", "labelPadding": 16, "labelFontSize": 13, "title": null}}, "y": {"field": "ti_a", "type": "quantitative", "scale": {"type": "log", "domain": [10000, 10000000], "nice": false}, "axis": {"orient": "left", "values": [100000, 1000000], "labelExpr": "datum.value == 100000 ? '10⁵' : '10⁶'", "title": "Ion Temp"}}}},
   {"mark": {"type": "line", "color": "#ff0000", "strokeWidth": 1.5, "clip": true}, "encoding": {"x": {"field": "t", "type": "quantitative", "scale": {"domain": [0, 24], "nice": false}, "axis": {"orient": "top", "values": [0,2,4,6,8,10,12,14,16,18,20,22,24], "labels": false, "title": null}}, "y": {"field": "ti_r", "type": "quantitative", "scale": {"type": "log", "domain": [10000, 10000000], "nice": false}, "axis": {"orient": "right", "values": [100000, 1000000, 7000000, 8000000, 9000000], "labels": false, "title": null}}}},
   {"mark": {"type": "line", "color": "#0000ff", "strokeWidth": 1.5, "clip": true}, "encoding": {"x": {"field": "t", "type": "quantitative", "scale": {"domain": [0, 24], "nice": false}, "axis": null}, "y": {"field": "ti_b", "type": "quantitative", "scale": {"type": "log", "domain": [10000, 10000000], "nice": false}, "axis": null}}}
  ],
  "resolve": {"axis": {"x": "independent", "y": "independent"}}},
 {"width": 415, "height": 40, "view": {"stroke": null},
  "layer": [
   {"data": {"values": [{"x": 0, "label": "BLUE: Behind"}]}, "mark": {"type": "text", "align": "left", "baseline": "middle", "fontSize": 13, "color": "#0000ff", "dy": 12}, "encoding": {"x": {"field": "x", "type": "quantitative", "scale": {"domain": [0, 24], "nice": false}, "axis": null}, "text": {"field": "label"}}},
   {"data": {"values": [{"x": 12, "label": "Start:\u00a0\u00a06-Feb-2013 00:00 UTC"}]}, "mark": {"type": "text", "align": "center", "baseline": "middle", "fontSize": 13, "color": "black", "dy": 12}, "encoding": {"x": {"field": "x", "type": "quantitative", "scale": {"domain": [0, 24], "nice": false}, "axis": null}, "text": {"field": "label"}}},
   {"data": {"values": [{"x": 24, "label": "RED: Ahead"}]}, "mark": {"type": "text", "align": "right", "baseline": "middle", "fontSize": 13, "color": "#ff0000", "dy": 12}, "encoding": {"x": {"field": "x", "type": "quantitative", "scale": {"domain": [0, 24], "nice": false}, "axis": null}, "text": {"field": "label"}}}
  ]}
]
}
